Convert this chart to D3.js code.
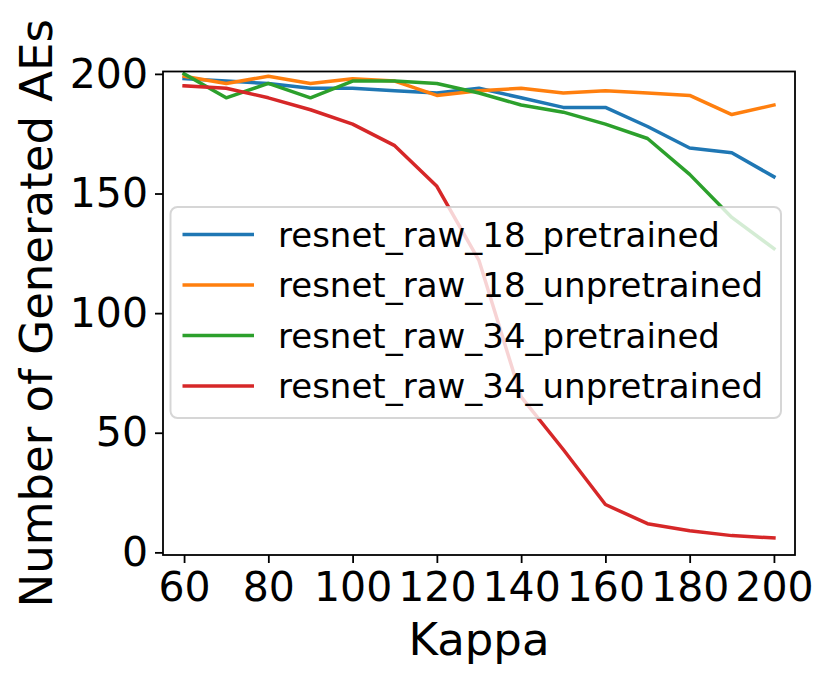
<!DOCTYPE html>
<html>
<head>
<meta charset="utf-8">
<script src="https://cdn.jsdelivr.net/npm/d3@7"></script>
<style>
    body { margin: 0; background: #fff; }
    text { font-family: "DejaVu Sans", sans-serif; }
</style>
</head>
<body>
<div id="chart"></div>
<script type="text/javascript">

// Kappa values on the x axis
var kappa = [60, 70, 80, 90, 100, 110, 120, 130, 140, 150, 160, 170, 180, 190, 200];

// series
var resnet18Pre   = [198, 197, 196, 194, 194, 193, 192, 194, 190, 186, 186, 178, 169, 167, 157];
var resnet18Unpre = [199, 196, 199, 196, 198, 197, 191, 193, 194, 192, 193, 192, 191, 183, 187];
var resnet34Pre   = [200, 190, 196, 190, 197, 197, 196, 192, 187, 184, 179, 173, 158, 140, 127];
var resnet34Unpre = [195, 194, 190, 185, 179, 170, 153, 122, 65, 43, 20, 12, 9, 7, 6];

var seriesNames = ["resnet_raw_18_pretrained", "resnet_raw_18_unpretrained",
                   "resnet_raw_34_pretrained", "resnet_raw_34_unpretrained"];
var colors = ["#1f77b4", "#ff7f0e", "#2ca02c", "#d62728"];

var xTicks = [60, 80, 100, 120, 140, 160, 180, 200];
var yTicks = [0, 50, 100, 150, 200];

var series = [resnet18Pre, resnet18Unpre, resnet34Pre, resnet34Unpre].map(function (vals, i) {
    return {
        name: seriesNames[i],
        color: colors[i],
        points: vals.map(function (v, j) { return {x: kappa[j], y: v}; })
    };
});

var W = 830, H = 680;
var plot = {left: 163, right: 795, top: 71.5, bottom: 555};

var svg = d3.select("#chart").append("svg")
    .attr("width", W)
    .attr("height", H);

var x = d3.scaleLinear().domain([55, 205]).range([plot.left, plot.right]);
var y = d3.scaleLinear().domain([-1.1, 201]).range([plot.bottom, plot.top]);

// axes
var xAxis = svg.append("g")
    .attr("transform", "translate(0," + plot.bottom + ")")
    .call(d3.axisBottom(x).tickValues(xTicks).tickSize(8).tickPadding(9).tickSizeOuter(0));
var yAxis = svg.append("g")
    .attr("transform", "translate(" + plot.left + ",0)")
    .call(d3.axisLeft(y).tickValues(yTicks).tickSize(8).tickPadding(7).tickSizeOuter(0));

[xAxis, yAxis].forEach(function (a) {
    a.select(".domain").remove();
    a.selectAll(".tick line").attr("stroke", "#000").attr("stroke-width", 1.8);
    a.selectAll(".tick text")
        .attr("fill", "#000")
        .style("font-size", "41px")
        .style("font-family", "DejaVu Sans, sans-serif");
});

// lines
var line = d3.line()
    .x(function (d) { return x(d.x); })
    .y(function (d) { return y(d.y); });

svg.append("g")
    .selectAll("path")
    .data(series)
    .enter().append("path")
    .attr("d", function (d) { return line(d.points); })
    .attr("fill", "none")
    .attr("stroke", function (d) { return d.color; })
    .attr("stroke-width", 3.5)
    .attr("stroke-linejoin", "round")
    .attr("stroke-linecap", "square");

// frame
svg.append("rect")
    .attr("x", plot.left)
    .attr("y", plot.top)
    .attr("width", plot.right - plot.left)
    .attr("height", plot.bottom - plot.top)
    .attr("fill", "none")
    .attr("stroke", "#000")
    .attr("stroke-width", 1.8);

// legend
var legend = svg.append("g");
legend.append("rect")
    .attr("x", 170.5)
    .attr("y", 207)
    .attr("width", 610.5)
    .attr("height", 211)
    .attr("rx", 7)
    .attr("fill", "#fff")
    .attr("fill-opacity", 0.8)
    .attr("stroke", "#cccccc")
    .attr("stroke-opacity", 0.8)
    .attr("stroke-width", 2);

var rowY = [234.5, 285, 335.5, 386];
var item = legend.selectAll("g.item")
    .data(series)
    .enter().append("g")
    .attr("class", "item")
    .attr("transform", function (d, i) { return "translate(0," + rowY[i] + ")"; });

item.append("line")
    .attr("x1", 182.5).attr("x2", 254)
    .attr("y1", 0).attr("y2", 0)
    .attr("stroke", function (d) { return d.color; })
    .attr("stroke-width", 3.5);

item.append("text")
    .attr("x", 278)
    .attr("y", 12)
    .style("font-size", "34px")
    .text(function (d) { return d.name; });

// axis labels
svg.append("text")
    .attr("x", (plot.left + plot.right) / 2)
    .attr("y", 655)
    .attr("text-anchor", "middle")
    .style("font-size", "45px")
    .text("Kappa");

svg.append("text")
    .attr("transform", "translate(52," + (plot.top + plot.bottom) / 2 + ") rotate(-90)")
    .attr("text-anchor", "middle")
    .style("font-size", "45px")
    .text("Number of Generated AEs");

</script>
</body>
</html>
